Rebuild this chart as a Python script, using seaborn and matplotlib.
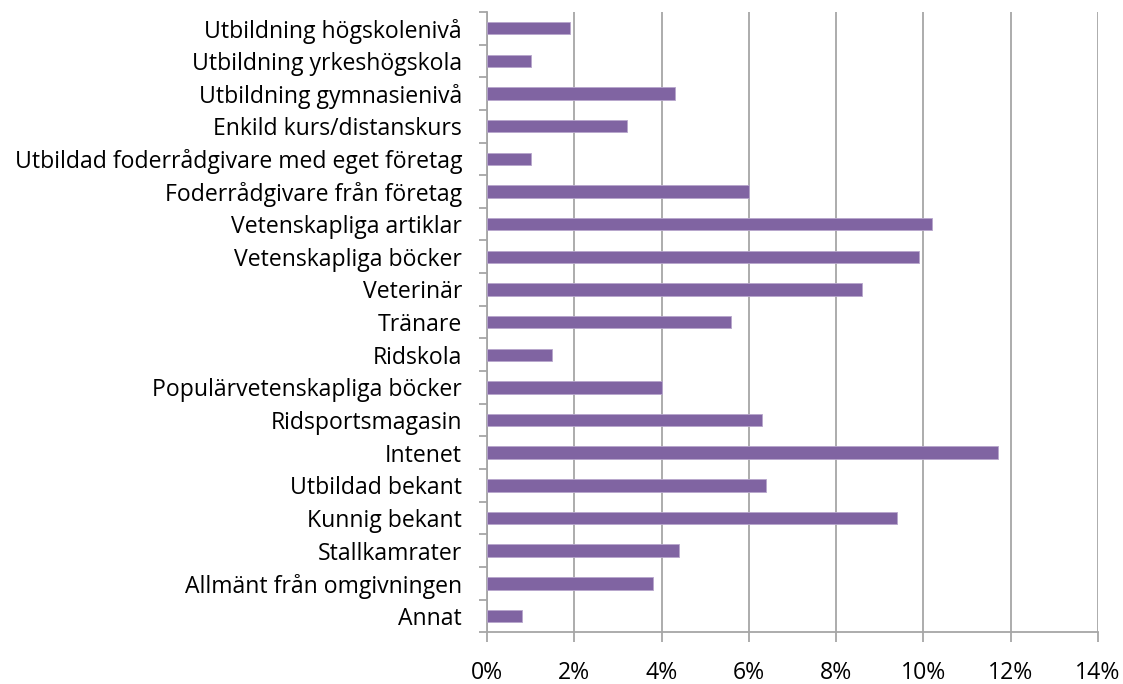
import matplotlib
matplotlib.use("Agg")
import matplotlib.pyplot as plt
import seaborn as sns
import pandas as pd
import numpy as np
from matplotlib.ticker import FuncFormatter, MultipleLocator

categories = [
    "Utbildning högskolenivå",
    "Utbildning yrkeshögskola",
    "Utbildning gymnasienivå",
    "Enkild kurs/distanskurs",
    "Utbildad foderrådgivare med eget företag",
    "Foderrådgivare från företag",
    "Vetenskapliga artiklar",
    "Vetenskapliga böcker",
    "Veterinär",
    "Tränare",
    "Ridskola",
    "Populärvetenskapliga böcker",
    "Ridsportsmagasin",
    "Intenet",
    "Utbildad bekant",
    "Kunnig bekant",
    "Stallkamrater",
    "Allmänt från omgivningen",
    "Annat",
]
values = [1.9, 1.0, 4.3, 3.2, 1.0, 6.0, 10.2, 9.9, 8.6, 5.6, 1.5, 4.0, 6.3, 11.7, 6.4, 9.4, 4.4, 3.8, 0.8]
x_ticks = [0, 2, 4, 6, 8, 10, 12, 14]

sns.set_theme(style="white")
plt.rcParams['font.family'] = ['Open Sans', 'DejaVu Sans']

df = pd.DataFrame({"kategori": categories, "andel": values})

fig = plt.figure(figsize=(11.23, 6.84), dpi=100)
ax = fig.add_axes([0.4337, 0.0756, 0.544, 0.907])

sns.barplot(data=df, y="kategori", x="andel", orient="h", order=categories,
            color="#8064A2", saturation=1, width=0.38, ax=ax,
            edgecolor="#B7A6CC", linewidth=0.6, zorder=3)

grid_col = "#A6A6A6"
ax.set_xlim(0, 14)
ax.set_ylim(len(categories) - 0.5, -0.5)
ax.set_xticks(x_ticks)
ax.xaxis.set_major_formatter(FuncFormatter(lambda v, p: f"{int(v)}%"))
ax.grid(axis="x", color=grid_col, linewidth=1.3, zorder=0)
ax.grid(axis="y", visible=False)
ax.set_axisbelow(True)

for s in ["top", "right"]:
    ax.spines[s].set_visible(False)
for s in ["left", "bottom"]:
    ax.spines[s].set_color(grid_col)
    ax.spines[s].set_linewidth(1.3)

ax.set_xlabel("")
ax.set_ylabel("")
ax.yaxis.set_minor_locator(MultipleLocator(1, offset=0.5))
ax.tick_params(axis="y", which="major", length=0, pad=18, labelsize=16.6, labelcolor="#000000")
ax.tick_params(axis="y", which="minor", left=True, length=6, width=1.3, color=grid_col, direction="out")
ax.tick_params(axis="x", which="major", bottom=True, length=7, width=1.3, color=grid_col,
               direction="out", pad=14, labelsize=16.6, labelcolor="#000000")

fig.savefig("out.png", dpi=100)
